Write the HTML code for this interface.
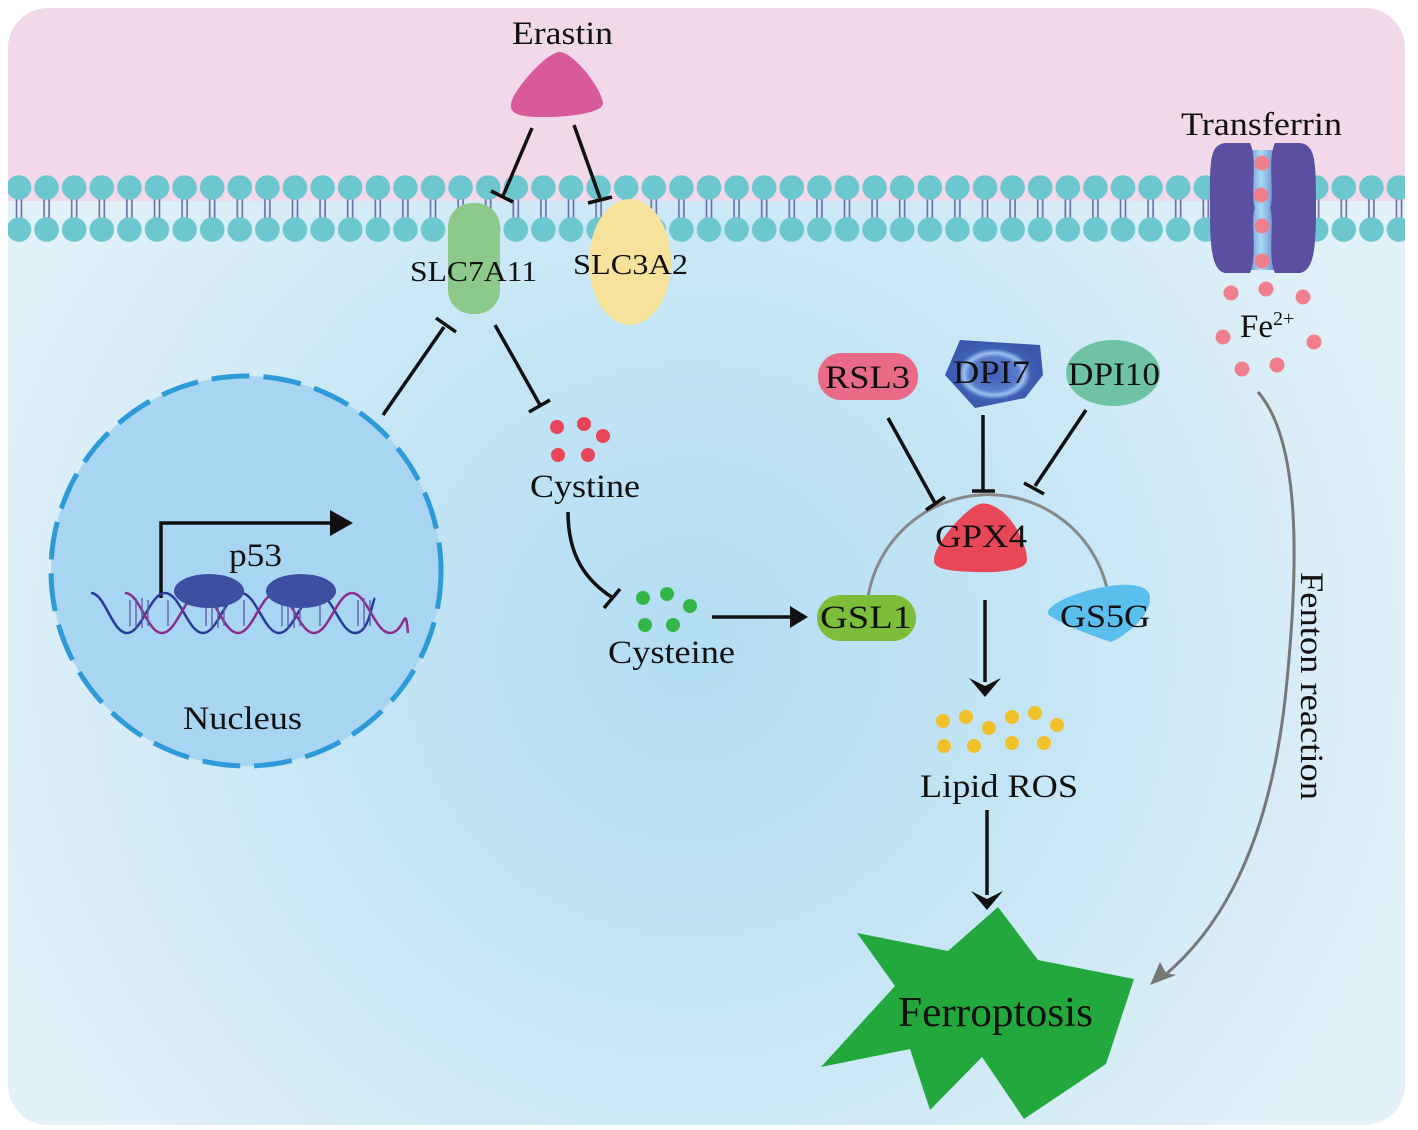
<!DOCTYPE html>
<html><head><meta charset="utf-8"><style>
html,body{margin:0;padding:0;background:#fff;}
svg{display:block;}
text{font-family:"Liberation Serif",serif;fill:#111;}
</style></head><body>
<svg width="1418" height="1130" viewBox="0 0 1418 1130" xmlns="http://www.w3.org/2000/svg">
<defs>
<radialGradient id="bg" cx="690" cy="650" r="760" gradientUnits="userSpaceOnUse">
<stop offset="0" stop-color="#b3ddf3"/><stop offset="0.45" stop-color="#c4e5f5"/><stop offset="1" stop-color="#e3f1f8"/>
</radialGradient>
<clipPath id="clip"><rect x="8" y="8" width="1397" height="1117" rx="40"/></clipPath>
<pattern id="mem" x="5.2" y="175" width="27.6" height="67" patternUnits="userSpaceOnUse">
<line x1="11.3" y1="18" x2="11.3" y2="50" stroke="#6a6aa6" stroke-width="1.6"/>
<line x1="16.3" y1="18" x2="16.3" y2="50" stroke="#6a6aa6" stroke-width="1.6"/>
<circle cx="13.8" cy="12.5" r="12.3" fill="#6cc7cf"/>
<circle cx="13.8" cy="54.5" r="12.3" fill="#6cc7cf"/>
</pattern>
<linearGradient id="ch" x1="0" x2="1"><stop offset="0" stop-color="#4a5fb8"/><stop offset="0.5" stop-color="#a8dcf4"/><stop offset="1" stop-color="#4a5fb8"/></linearGradient>
<radialGradient id="dpi" cx="0.5" cy="0.5" r="0.5"><stop offset="0" stop-color="#3f5fb5"/><stop offset="0.5" stop-color="#5a7acb"/><stop offset="0.62" stop-color="#9cc0ee"/><stop offset="0.75" stop-color="#3f5fb5"/><stop offset="1" stop-color="#3a58ad"/></radialGradient>
</defs>
<g clip-path="url(#clip)">
<rect x="0" y="0" width="1418" height="1130" fill="url(#bg)"/>
<rect x="0" y="0" width="1418" height="201" fill="#f1d9ea"/>
<rect x="5" y="175" width="1410" height="67" fill="url(#mem)"/>
</g>

<!-- Erastin -->
<text x="512" y="44" font-size="33" textLength="101" lengthAdjust="spacingAndGlyphs">Erastin</text>
<path d="M560 52 C572 52 600 85 603 103 C604 114 560 118 535 117 C515 116 508 112 512 100 C518 85 547 52 560 52 Z" fill="#d95a9b"/>
<g stroke="#111" stroke-width="3.5" fill="none">
<line x1="532" y1="128" x2="503" y2="196"/><line x1="491" y1="191" x2="513" y2="202"/>
<line x1="574" y1="125" x2="600" y2="198"/><line x1="588" y1="203" x2="612" y2="197"/>
</g>

<!-- SLC7A11 / SLC3A2 -->
<rect x="448" y="203" width="52" height="111" rx="24" fill="#8cc98a"/>
<ellipse cx="630" cy="262" rx="41" ry="63" fill="#f6e29a"/>
<text x="410" y="281" font-size="29" textLength="127" lengthAdjust="spacingAndGlyphs">SLC7A11</text>
<text x="573" y="274" font-size="29" textLength="115" lengthAdjust="spacingAndGlyphs">SLC3A2</text>

<!-- Nucleus -->
<circle cx="246" cy="571" r="195" fill="#a8d5f2" stroke="#2e9ad8" stroke-width="5" stroke-dasharray="38 14"/>
<g stroke="#111" stroke-width="3.5" fill="none">
<line x1="383" y1="415" x2="444" y2="327"/><line x1="436" y1="318" x2="456" y2="332"/>
<line x1="495" y1="325" x2="540" y2="405"/><line x1="529" y1="412" x2="550" y2="400"/>
<polyline points="161,598 161,523 335,523"/>
</g>
<polygon points="330,510 353,523 330,536" fill="#111"/>
<g fill="none" stroke-width="2.5">
<path d="M91 593 C105 593 112 633 127 633 S150 593 165 593 S188 633 203 633 S226 593 241 593 S264 633 279 633 S302 593 317 593 S340 633 355 633 S372 600 375 598" stroke="#2a3a9a"/>
<path d="M125 593 C140 593 147 633 162 633 S185 593 200 593 S223 633 238 633 S261 593 276 593 S299 633 314 633 S337 593 352 593 S375 633 390 633 S405 600 408 633" stroke="#8b2c8f"/>
</g>
<g stroke="#5a5aa8" stroke-width="1.3">
<line x1="130" y1="600" x2="130" y2="626"/><line x1="136" y1="598" x2="136" y2="628"/><line x1="142" y1="598" x2="142" y2="628"/><line x1="148" y1="600" x2="148" y2="626"/>
<line x1="206" y1="600" x2="206" y2="626"/><line x1="212" y1="598" x2="212" y2="628"/><line x1="218" y1="598" x2="218" y2="628"/><line x1="224" y1="600" x2="224" y2="626"/>
<line x1="282" y1="600" x2="282" y2="626"/><line x1="288" y1="598" x2="288" y2="628"/><line x1="294" y1="598" x2="294" y2="628"/><line x1="300" y1="600" x2="300" y2="626"/>
<line x1="358" y1="600" x2="358" y2="626"/><line x1="364" y1="598" x2="364" y2="628"/><line x1="370" y1="600" x2="370" y2="626"/>
<line x1="168" y1="600" x2="168" y2="626"/><line x1="244" y1="600" x2="244" y2="626"/><line x1="320" y1="600" x2="320" y2="626"/>
</g>
<ellipse cx="209" cy="591" rx="35" ry="17" fill="#3d4fa0"/>
<ellipse cx="301" cy="591" rx="35" ry="17" fill="#3d4fa0"/>
<text x="229" y="566" font-size="33" textLength="53" lengthAdjust="spacingAndGlyphs">p53</text>
<text x="183" y="729" font-size="33" textLength="119" lengthAdjust="spacingAndGlyphs">Nucleus</text>

<!-- Cystine / Cysteine -->
<g fill="#e8445a"><circle cx="557" cy="427" r="7"/><circle cx="584" cy="424" r="7"/><circle cx="603" cy="436" r="7"/><circle cx="558" cy="455" r="7"/><circle cx="588" cy="455" r="7"/></g>
<text x="530" y="497" font-size="33" textLength="110" lengthAdjust="spacingAndGlyphs">Cystine</text>
<g stroke="#111" stroke-width="3.5" fill="none">
<path d="M568 512 C568 555 585 580 613 598"/><line x1="604" y1="608" x2="620" y2="589"/>
<line x1="712" y1="617" x2="795" y2="617"/>
</g>
<polygon points="790,606 808,617 790,628" fill="#111"/>
<g fill="#33b54a"><circle cx="643" cy="598" r="7"/><circle cx="667" cy="594" r="7"/><circle cx="690" cy="606" r="7"/><circle cx="645" cy="625" r="7"/><circle cx="673" cy="625" r="7"/></g>
<text x="608" y="663" font-size="33" textLength="127" lengthAdjust="spacingAndGlyphs">Cysteine</text>

<!-- GPX4 cluster -->
<path d="M868 597 A122 122 0 0 1 1107 588" fill="none" stroke="#888" stroke-width="3"/>
<rect x="818" y="353" width="100" height="47" rx="23" fill="#e96a86"/>
<polygon points="960,340 1040,345 1043,375 1025,398 975,408 945,375" fill="url(#dpi)"/>
<ellipse cx="1113" cy="373" rx="47" ry="33" fill="#6fc3a5"/>
<text x="825" y="388" font-size="33" textLength="85" lengthAdjust="spacingAndGlyphs">RSL3</text>
<text x="953" y="383" font-size="33" textLength="77" lengthAdjust="spacingAndGlyphs">DPI7</text>
<text x="1068" y="385" font-size="33" textLength="92" lengthAdjust="spacingAndGlyphs">DPI10</text>
<g stroke="#111" stroke-width="3.5" fill="none">
<line x1="888" y1="418" x2="935" y2="503"/><line x1="926" y1="510" x2="945" y2="497"/>
<line x1="983" y1="415" x2="983" y2="491"/><line x1="972" y1="491" x2="995" y2="491"/>
<line x1="1086" y1="410" x2="1035" y2="486"/><line x1="1024" y1="483" x2="1044" y2="494"/>
<line x1="985" y1="600" x2="985" y2="682"/>
<line x1="987" y1="810" x2="987" y2="895"/>
</g>
<path d="M975 506 C985 500 995 506 1003 512 C1015 522 1027 545 1027 560 C1027 570 1000 573 975 572 C950 571 934 570 934 560 C934 545 960 515 975 506 Z" fill="#e84758"/>
<text x="935" y="547" font-size="33" textLength="92" lengthAdjust="spacingAndGlyphs">GPX4</text>
<rect x="817" y="595" width="99" height="46" rx="23" fill="#7cbd3a"/>
<text x="820" y="628" font-size="33" textLength="92" lengthAdjust="spacingAndGlyphs">GSL1</text>
<path d="M1110 586 C1130 583 1150 585 1150 598 C1150 615 1130 633 1111 642 C1090 635 1060 624 1048 614 C1046 604 1080 590 1110 586 Z" fill="#5bbfee"/>
<text x="1060" y="627" font-size="33" textLength="90" lengthAdjust="spacingAndGlyphs">GS5G</text>
<polygon points="969,678 985,697 1001,678 985,686" fill="#111"/>
<polygon points="971,891 987,910 1003,891 987,899" fill="#111"/>
<g fill="#f2c02a"><circle cx="943" cy="721" r="7"/><circle cx="966" cy="717" r="7"/><circle cx="989" cy="728" r="7"/><circle cx="1012" cy="717" r="7"/><circle cx="1035" cy="713" r="7"/><circle cx="1057" cy="725" r="7"/><circle cx="944" cy="746" r="7"/><circle cx="974" cy="746" r="7"/><circle cx="1012" cy="743" r="7"/><circle cx="1044" cy="743" r="7"/></g>
<text x="920" y="797" font-size="33" textLength="158" lengthAdjust="spacingAndGlyphs">Lipid ROS</text>

<!-- Ferroptosis -->
<polygon points="857,933 948,951 998,907 1038,960 1134,979 1106,1064 1024,1119 982,1057 930,1110 910,1049 821,1067 895,986" fill="#22a83c"/>
<text x="898" y="1026" font-size="42" textLength="195" lengthAdjust="spacingAndGlyphs">Ferroptosis</text>

<!-- Transferrin -->
<text x="1181" y="135" font-size="33" textLength="161" lengthAdjust="spacingAndGlyphs">Transferrin</text>
<rect x="1240" y="150" width="42" height="120" fill="url(#ch)"/>
<path d="M1225 143 C1210 145 1210 160 1210 200 C1210 240 1210 270 1225 273 L1250 273 C1258 255 1250 220 1255 208 C1250 195 1258 160 1250 143 Z" fill="#5a4fa0"/>
<path d="M1300 143 C1315 145 1316 160 1316 200 C1316 240 1316 270 1300 273 L1275 273 C1267 255 1275 220 1270 208 C1275 195 1267 160 1275 143 Z" fill="#5a4fa0"/>
<g fill="#f07f8e">
<circle cx="1262" cy="163" r="7.5"/><circle cx="1261" cy="195" r="7.5"/><circle cx="1262" cy="226" r="7.5"/><circle cx="1262" cy="261" r="7.5"/>
<circle cx="1231" cy="293" r="7.5"/><circle cx="1266" cy="289" r="7.5"/><circle cx="1303" cy="297" r="7.5"/>
<circle cx="1223" cy="337" r="7.5"/><circle cx="1314" cy="342" r="7.5"/><circle cx="1242" cy="369" r="7.5"/><circle cx="1277" cy="365" r="7.5"/>
</g>
<text x="1240" y="337" font-size="33">Fe<tspan font-size="20" dy="-12">2+</tspan></text>

<!-- Fenton curve -->
<path d="M1258 392 C1300 440 1300 560 1285 700 C1270 830 1230 920 1165 975" fill="none" stroke="#777" stroke-width="3"/>
<polygon points="1150,985 1160,962 1166,973 1176,975" fill="#777"/>
<text transform="translate(1301,572) rotate(90)" font-size="33" textLength="228" lengthAdjust="spacingAndGlyphs">Fenton reaction</text>
</svg>
</body></html>
